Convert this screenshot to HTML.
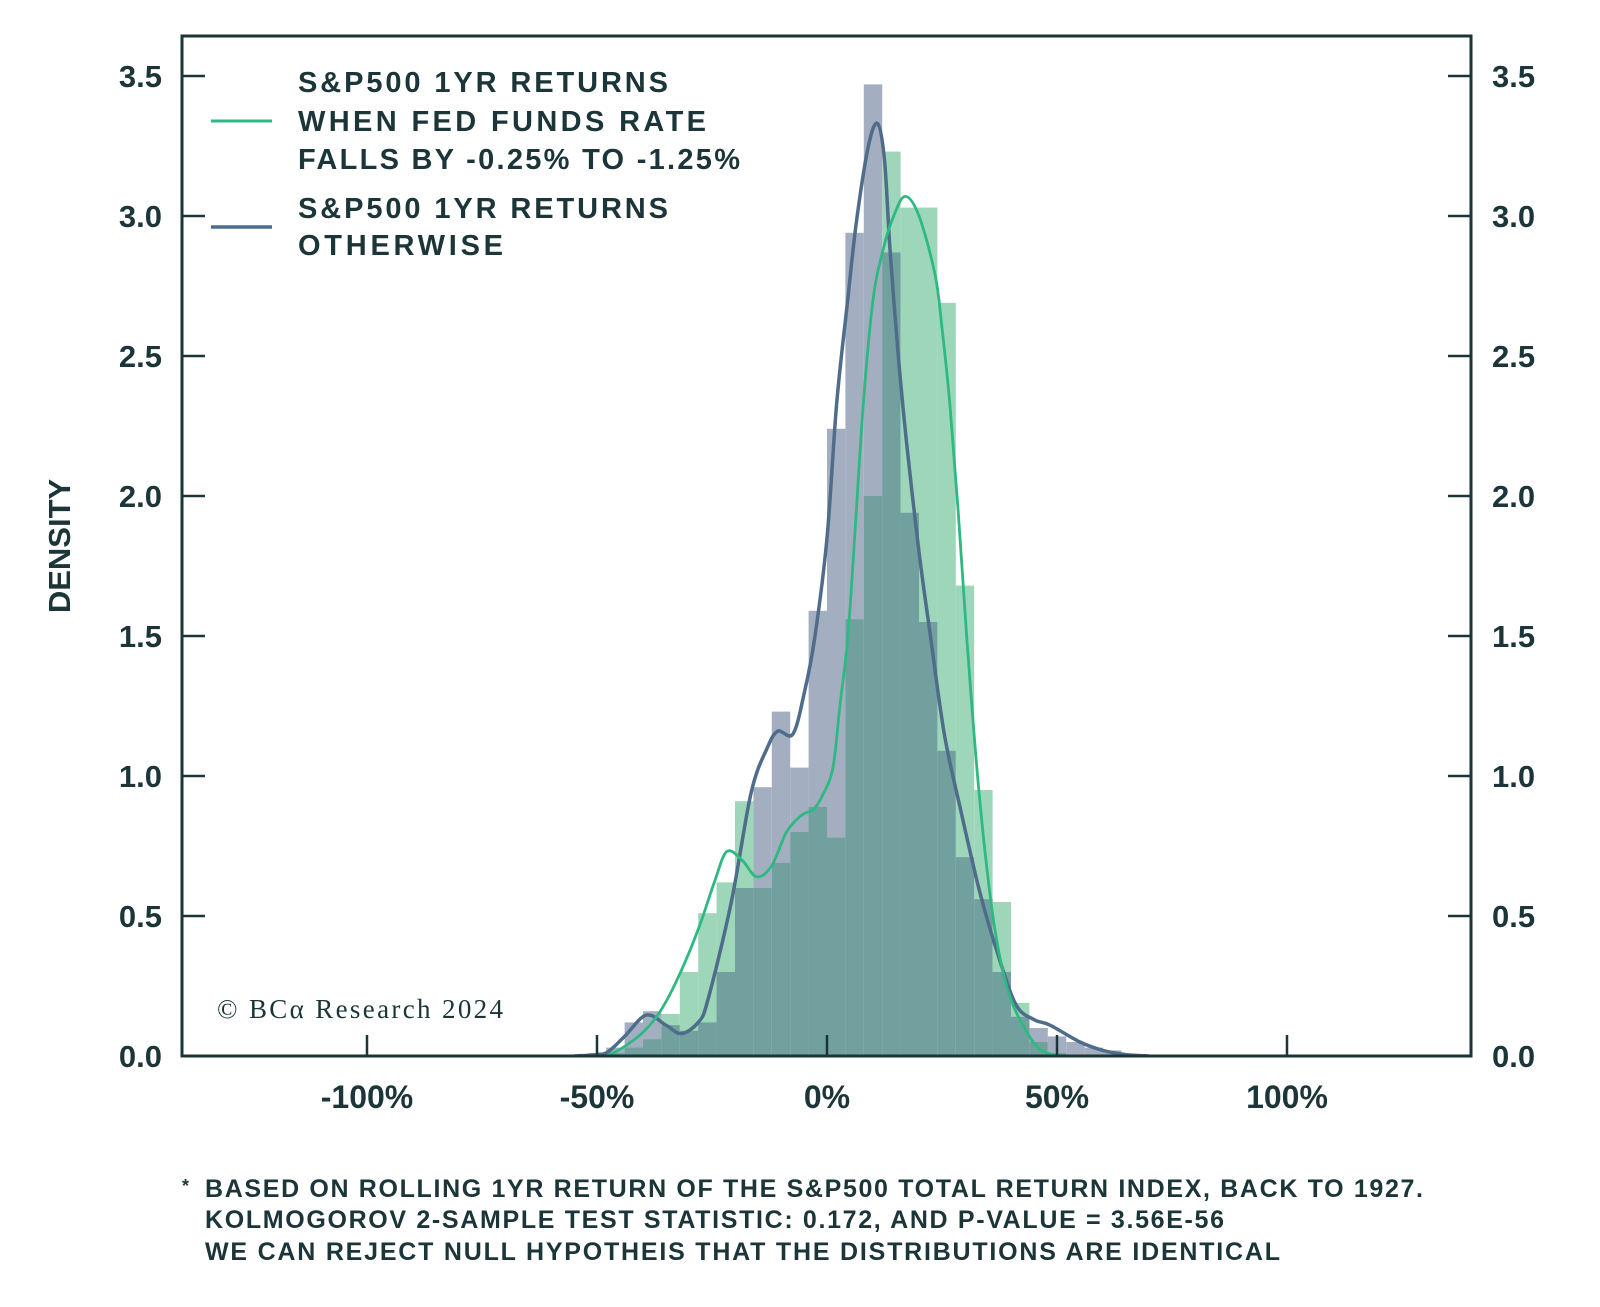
<!DOCTYPE html>
<html><head><meta charset="utf-8"><style>
html,body{margin:0;padding:0;background:#fff;}
svg{display:block;}
text{font-family:"Liberation Sans",sans-serif;fill:#1b3538;}
</style></head><body>
<svg id="chart" width="1600" height="1307" viewBox="0 0 1600 1307" xmlns="http://www.w3.org/2000/svg">
<defs><clipPath id="plotclip"><rect x="182" y="36" width="1289" height="1020"/></clipPath></defs>
<g id="bars" clip-path="url(#plotclip)"></g>
<g id="lines" clip-path="url(#plotclip)"></g>
<rect x="182" y="36" width="1289" height="1020" fill="none" stroke="#1b3538" stroke-width="3"/>
<g id="axes"></g>
<text x="0" y="0" transform="translate(70,546) rotate(-90)" text-anchor="middle" font-size="31" font-weight="bold">DENSITY</text>
<g>
<line x1="211" y1="121" x2="272" y2="121" stroke="#2fb982" stroke-width="3"/>
<text font-size="29" font-weight="bold"><tspan x="298" y="92" textLength="370">S&amp;P500 1YR RETURNS</tspan><tspan x="298" y="131" textLength="408">WHEN FED FUNDS RATE</tspan><tspan x="298" y="169" textLength="442">FALLS BY -0.25% TO -1.25%</tspan></text>
<line x1="211" y1="227" x2="272" y2="227" stroke="#4f6d8a" stroke-width="3.5"/>
<text font-size="29" font-weight="bold"><tspan x="298" y="218" textLength="370">S&amp;P500 1YR RETURNS</tspan><tspan x="298" y="255" textLength="205">OTHERWISE</tspan></text>
</g>
<text x="217" y="1018" font-family="Liberation Serif, serif" font-size="27" style="font-family:'Liberation Serif',serif" textLength="286">© BCα Research 2024</text>
<g font-size="25" font-weight="bold">
<text x="182" y="1192" font-size="18">*</text>
<text x="205" y="1197" textLength="1218">BASED ON ROLLING 1YR RETURN OF THE S&amp;P500 TOTAL RETURN INDEX, BACK TO 1927.</text>
<text x="205" y="1228" textLength="1019">KOLMOGOROV 2-SAMPLE TEST STATISTIC: 0.172, AND P-VALUE = 3.56E-56</text>
<text x="205" y="1260" textLength="1075">WE CAN REJECT NULL HYPOTHEIS THAT THE DISTRIBUTIONS ARE IDENTICAL</text>
</g>
</svg>
<script>
const binStarts = [-52,-48,-44,-40,-36,-32,-28,-24,-20,-16,-12,-8,-4,0,4,8,12,16,20,24,28,32,36,40,44,48,52,56,60];
const grayDensity = [0.01,0.03,0.12,0.16,0.11,0.09,0.12,0.3,0.6,0.96,1.23,1.03,1.59,2.24,2.94,3.47,2.87,1.94,1.55,1.09,0.71,0.56,0.3,0.14,0.1,0.07,0.05,0.03,0.02];
const greenDensity = [0,0.01,0.03,0.06,0.15,0.3,0.51,0.62,0.91,0.6,0.69,0.8,0.89,0.78,1.56,2.0,3.23,3.03,3.03,2.69,1.68,0.95,0.55,0.19,0.05,0.01,0,0,0];
const binWidth = 4;
const grayKdeX = [-55,-50,-47.6,-44,-39.3,-35,-31.7,-28,-25.9,-20.8,-16.5,-13,-10.7,-7.4,-4.9,-2.7,0,2.1,4.5,6.4,9,11,12.5,13.7,15.5,17.3,20,22.4,25.5,28.9,33.3,37.6,41.2,45,48.5,55,60,65,70];
const grayKdeY = [0,0.005,0.015,0.07,0.146,0.11,0.08,0.12,0.2,0.55,0.94,1.1,1.16,1.15,1.3,1.49,1.85,2.33,2.7,2.98,3.25,3.33,3.2,2.88,2.5,2.19,1.8,1.51,1.15,0.89,0.58,0.34,0.18,0.13,0.11,0.05,0.02,0.005,0];
const greenKdeX = [-52,-47.6,-42,-38,-34.8,-31,-27.6,-24.5,-21.8,-18.5,-15.3,-12,-8.8,-5.5,-3,-1,1.3,2.8,4.5,6,7.9,10,12.2,14.5,17,20,23.5,25,26.7,28.5,30.4,33,35.8,38,40.5,44.8,48,52];
const greenKdeY = [0,0.003,0.057,0.12,0.2,0.33,0.47,0.62,0.73,0.7,0.64,0.68,0.8,0.86,0.88,0.93,1.03,1.25,1.49,1.85,2.33,2.7,2.88,3.0,3.07,3.0,2.79,2.6,2.33,1.95,1.49,0.95,0.53,0.32,0.18,0.05,0.01,0];
const yTicks = [0,0.5,1,1.5,2,2.5,3,3.5];
const yTickLabels = ["0.0","0.5","1.0","1.5","2.0","2.5","3.0","3.5"];
const xTicks = [-100,-50,0,50,100];
const xTickLabels = ["-100%","-50%","0%","50%","100%"];

const NS = "http://www.w3.org/2000/svg";
const X0 = 827, XS = 4.6, Y0 = 1056, YS = 280;
function xs(v){ return X0 + v*XS; }
function ys(v){ return Y0 - v*YS; }
function mk(tag, attrs, parent){ const e=document.createElementNS(NS,tag); for(const k in attrs) e.setAttribute(k,attrs[k]); parent.appendChild(e); return e; }

const bars = document.getElementById('bars');
binStarts.forEach((b,i)=>{
  const x = xs(b), w = xs(b+binWidth)-xs(b);
  const g = grayDensity[i], n = greenDensity[i], m = Math.min(g,n);
  if (g>0){ const r = mk('rect',{x:x,y:ys(g),width:w,height:Y0-ys(g),fill:'#a3afc1'},bars);
    
     }
  if (n>0){ const r = mk('rect',{x:x,y:ys(n),width:w,height:Y0-ys(n),fill:'#9ed6b9'},bars);
    
     }
  if (m>0){ const r = mk('rect',{x:x,y:ys(m),width:w,height:Y0-ys(m),fill:'#72a09f'},bars);
    
     }
});

function smoothPath(X,Y){
  const p = X.map((x,i)=>[xs(x),ys(Y[i])]);
  let d = 'M'+p[0][0]+','+p[0][1];
  for(let i=0;i<p.length-1;i++){
    const p0=p[Math.max(0,i-1)], p1=p[i], p2=p[i+1], p3=p[Math.min(p.length-1,i+2)];
    const c1=[p1[0]+(p2[0]-p0[0])/6, p1[1]+(p2[1]-p0[1])/6];
    const c2=[p2[0]-(p3[0]-p1[0])/6, p2[1]-(p3[1]-p1[1])/6];
    d += ' C'+c1[0]+','+c1[1]+' '+c2[0]+','+c2[1]+' '+p2[0]+','+p2[1];
  }
  return d;
}
const lines = document.getElementById('lines');
const gl = mk('path',{d:smoothPath(grayKdeX,grayKdeY),fill:'none',stroke:'#4f6d8a','stroke-width':3.5,'stroke-linejoin':'round'},lines);


const nl = mk('path',{d:smoothPath(greenKdeX,greenKdeY),fill:'none',stroke:'#2fb982','stroke-width':2.8,'stroke-linejoin':'round'},lines);



const axes = document.getElementById('axes');
yTicks.forEach((v,i)=>{
  const y = ys(v);
  const t1 = mk('line',{x1:182,x2:205,y1:y,y2:y,stroke:'#1b3538','stroke-width':2.5},axes);
  
  
  const t2 = mk('line',{x1:1448,x2:1471,y1:y,y2:y,stroke:'#1b3538','stroke-width':2.5},axes);
  
  
  const l1 = mk('text',{x:162,y:y+11,'text-anchor':'end','font-size':31,'font-weight':'bold'},axes);
  l1.textContent = yTickLabels[i];
  
  
  const l2 = mk('text',{x:1492,y:y+11,'text-anchor':'start','font-size':31,'font-weight':'bold'},axes);
  l2.textContent = yTickLabels[i];
  
  
});
xTicks.forEach((v,i)=>{
  const x = xs(v);
  const t = mk('line',{x1:x,x2:x,y1:1056,y2:1035,stroke:'#1b3538','stroke-width':2.5},axes);
  
  
  const l = mk('text',{x:x,y:1108,'text-anchor':'middle','font-size':32,'font-weight':'bold'},axes);
  l.textContent = xTickLabels[i];
  
  
});
</script>
</body></html>
